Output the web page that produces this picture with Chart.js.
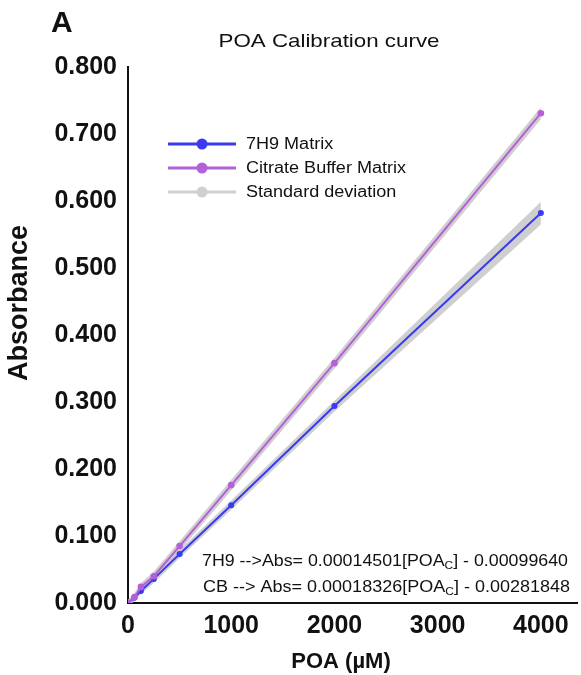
<!DOCTYPE html>
<html>
<head>
<meta charset="utf-8">
<script src="https://cdn.jsdelivr.net/npm/chart.js@4"></script>
<style>
html,body{margin:0;padding:0;background:#fff;}
#wrap{width:581px;height:675px;position:relative;}
</style>
</head>
<body>
<div id="wrap"><canvas id="c" width="581" height="675"></canvas></div>
<script>
// ---- data ----
const concentrations = [0, 62.5, 125, 250, 500, 1000, 2000, 4000];
const abs7H9 = [0, 0.008, 0.018, 0.036, 0.073, 0.146, 0.294, 0.582];
const absCB  = [0, 0.009, 0.024, 0.040, 0.085, 0.176, 0.358, 0.731];
const sd7H9  = [0.004, 0.005, 0.005, 0.006, 0.006, 0.007, 0.008, 0.017];
const sdCB   = [0.005, 0.006, 0.006, 0.007, 0.007, 0.008, 0.008, 0.009];
const xTicks = [0, 1000, 2000, 3000, 4000];
const yTicks = [0, 0.1, 0.2, 0.3, 0.4, 0.5, 0.6, 0.7, 0.8];
const seriesLabels = ['7H9 Matrix', 'Citrate Buffer Matrix', 'Standard deviation'];
const chartTitle = 'POA Calibration curve';
const panelLetter = 'A';
const xTitle = 'POA (µM)';
const yTitle = 'Absorbance';
const eqLines = [
  ['7H9 -->Abs= 0.00014501[POA', 'C', '] - 0.00099640'],
  ['CB --> Abs= 0.00018326[POA', 'C', '] - 0.00281848']
];

const BLUE = '#3a3af2';
const PURPLE = '#b460d8';
const GREY = 'rgba(195,195,195,0.8)';
const FONT = '"Liberation Sans", Arial, sans-serif';

const pts = (ys) => concentrations.map((x, i) => ({x, y: ys[i]}));
const band = (ys, sd, s) => concentrations.map((x, i) => ({x, y: ys[i] + s * sd[i]}));

const datasets = [
  {label: 'lo7', data: band(abs7H9, sd7H9, -1), borderWidth: 0, pointRadius: 0, fill: false, borderColor: 'transparent', order: 5},
  {label: 'hi7', data: band(abs7H9, sd7H9, 1), borderWidth: 0, pointRadius: 0, fill: '-1', backgroundColor: GREY, borderColor: 'transparent', order: 5},
  {label: 'loCB', data: band(absCB, sdCB, -1), borderWidth: 0, pointRadius: 0, fill: false, borderColor: 'transparent', order: 5},
  {label: 'hiCB', data: band(absCB, sdCB, 1), borderWidth: 0, pointRadius: 0, fill: '-1', backgroundColor: GREY, borderColor: 'transparent', order: 5},
  {label: seriesLabels[0], data: pts(abs7H9), borderColor: BLUE, backgroundColor: BLUE, borderWidth: 2, pointRadius: 3, pointBorderWidth: 0, fill: false, order: 1},
  {label: seriesLabels[1], data: pts(absCB), borderColor: PURPLE, backgroundColor: PURPLE, borderWidth: 2, pointRadius: 3.3, pointBorderWidth: 0, fill: false, order: 0}
];

function stretchText(ctx, text, x, y, sx) {
  ctx.save();
  ctx.translate(x, y);
  ctx.scale(sx, 1);
  ctx.fillText(text, 0, 0);
  ctx.restore();
}

const decor = {
  id: 'decor',
  afterDraw(chart) {
    const ctx = chart.ctx;
    ctx.save();
    ctx.fillStyle = '#111';
    // panel letter
    ctx.font = 'bold 30px ' + FONT;
    ctx.textAlign = 'left'; ctx.textBaseline = 'alphabetic';
    ctx.fillText(panelLetter, 51, 32);
    // title
    ctx.font = '19px ' + FONT;
    ctx.textAlign = 'center';
    const tw = ctx.measureText(chartTitle).width;
    stretchText(ctx, chartTitle, 329, 47, 221 / tw);
    // x title
    ctx.font = 'bold 22px ' + FONT;
    ctx.fillText(xTitle, 341, 668);
    // y title
    ctx.save();
    ctx.translate(27, 303);
    ctx.rotate(-Math.PI / 2);
    ctx.font = 'bold 27px ' + FONT;
    ctx.fillText(yTitle, 0, 0);
    ctx.restore();
    // legend
    const leg = [[seriesLabels[0], BLUE], [seriesLabels[1], PURPLE], [seriesLabels[2], '#d0d0d0']];
    ctx.font = '16px ' + FONT;
    const lsx = 160 / ctx.measureText(seriesLabels[1]).width;
    ctx.textAlign = 'left'; ctx.textBaseline = 'middle';
    leg.forEach((l, i) => {
      const y = 144 + i * 24;
      ctx.strokeStyle = l[1]; ctx.lineWidth = 3;
      ctx.beginPath(); ctx.moveTo(168, y); ctx.lineTo(236, y); ctx.stroke();
      ctx.fillStyle = l[1];
      ctx.beginPath(); ctx.arc(202, y, 5.5, 0, Math.PI * 2); ctx.fill();
      ctx.fillStyle = '#111';
      stretchText(ctx, l[0], 246, y + 1, lsx);
    });
    // equations
    ctx.textBaseline = 'alphabetic';
    const baseF = '16.5px ' + FONT, subF = '11px ' + FONT;
    eqLines.forEach((parts, i) => {
      const yb = 566 + i * 26;
      ctx.font = baseF; const w1 = ctx.measureText(parts[0]).width; const w3 = ctx.measureText(parts[2]).width;
      ctx.font = subF; const w2 = ctx.measureText(parts[1]).width;
      const tot = w1 + w2 + w3;
      const sx = (i === 0 ? 366 : 367) / tot;
      ctx.save();
      ctx.translate(i === 0 ? 202 : 203, yb);
      ctx.scale(sx, 1);
      let x = 0;
      ctx.fillStyle = '#111';
      ctx.font = baseF; ctx.fillText(parts[0], x, 0); x += w1;
      ctx.font = subF; ctx.fillText(parts[1], x, 3); x += w2;
      ctx.font = baseF; ctx.fillText(parts[2], x, 0);
      ctx.restore();
    });
    ctx.restore();
  }
};

new Chart(document.getElementById('c'), {
  type: 'line',
  data: {datasets},
  plugins: [decor],
  options: {
    responsive: false,
    animation: false,
    layout: {padding: {left: 0, right: 1, top: 67, bottom: 0}},
    plugins: {legend: {display: false}, tooltip: {enabled: false}, title: {display: false}},
    elements: {line: {tension: 0}},
    scales: {
      x: {
        type: 'linear', min: 0, max: 4350,
        afterBuildTicks: (s) => { s.ticks = xTicks.map(v => ({value: v})); },
        afterFit: (s) => { s.height = 72; },
        grid: {display: false, drawOnChartArea: false, drawTicks: true, tickLength: 8, tickWidth: 2, tickColor: '#111'},
        border: {display: true, color: '#111', width: 2},
        ticks: {color: '#111', font: {family: FONT, size: 25, weight: 'bold'}, padding: 0, maxRotation: 0,
                callback: (v) => String(v)}
      },
      y: {
        type: 'linear', min: 0, max: 0.8,
        afterBuildTicks: (s) => { s.ticks = yTicks.map(v => ({value: v})); },
        afterFit: (s) => { s.width = 128; },
        grid: {display: false, drawOnChartArea: false, drawTicks: true, tickLength: 8, tickWidth: 2, tickColor: '#111'},
        border: {display: true, color: '#111', width: 2},
        ticks: {color: '#111', font: {family: FONT, size: 25, weight: 'bold'}, padding: 3,
                callback: (v) => Number(v).toFixed(3)}
      }
    }
  }
});
</script>
</body>
</html>
